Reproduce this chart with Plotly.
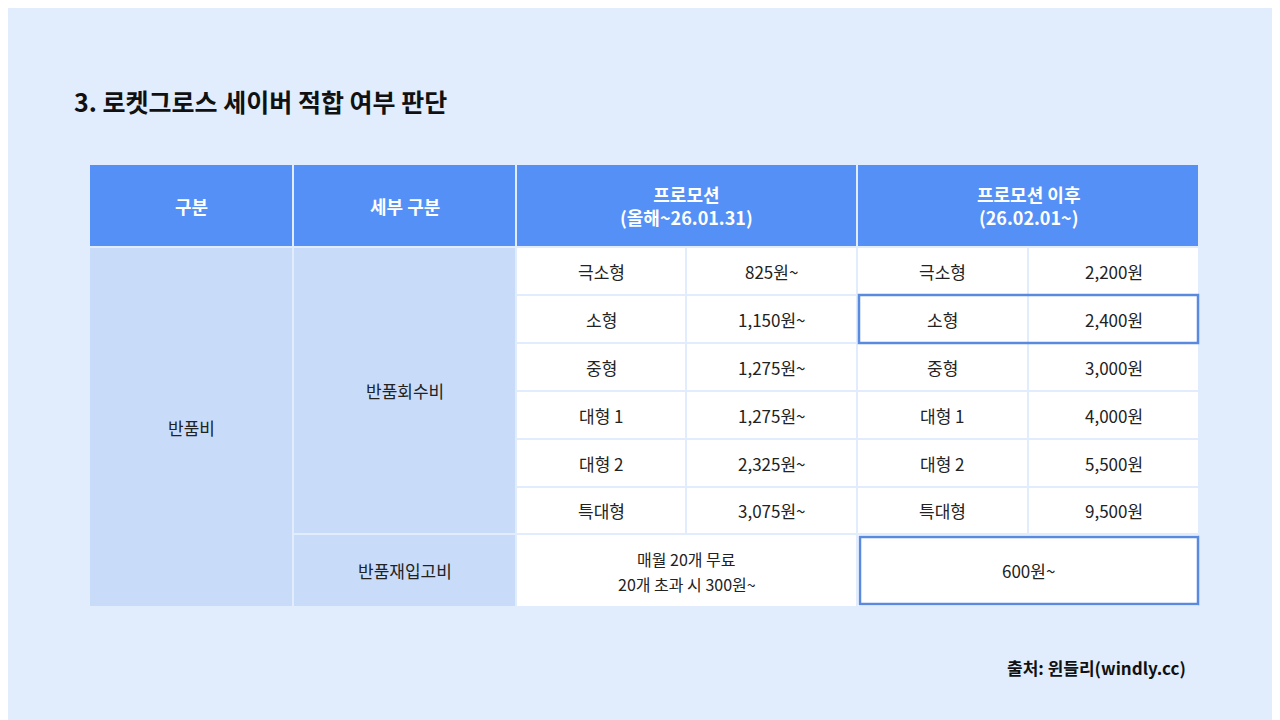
import plotly.graph_objects as go

title = "3. 로켓그로스 세이버 적합 여부 판단"
headers = ["구분", "세부 구분", "프로모션<br>(올해~26.01.31)", "프로모션 이후<br>(26.02.01~)"]
sizes = ["극소형", "소형", "중형", "대형 1", "대형 2", "특대형"]
promo = ["825원~", "1,150원~", "1,275원~", "1,275원~", "2,325원~", "3,075원~"]
after = ["2,200원", "2,400원", "3,000원", "4,000원", "5,500원", "9,500원"]
cat = "반품비"
sub1 = "반품회수비"
sub2 = "반품재입고비"
restock_promo = ["매월 20개 무료", "20개 초과 시 300원~"]
restock_after = "600원~"
source = "출처: 윈들리(windly.cc)"

BG = "#e1edfd"; HEAD = "#5590f6"; LIGHT = "#c8dcfa"; WHITE = "#ffffff"; EDGE = "#5a8ae0"
FONT = "Noto Sans CJK KR"

xs = [89, 293, 516, 686, 857, 1028, 1199]
head_y = (165, 246)
row_y = [(248, 294), (296, 342), (344, 390), (392, 438), (440, 486), (488, 533)]
last_y = (535, 606)

fig = go.Figure()
shapes = []
ann = []

def rect(x0, y0, x1, y1, color, line=None, w=0):
    shapes.append(dict(type="rect", xref="x", yref="y", x0=x0, x1=x1, y0=y0, y1=y1,
                       fillcolor=color, line=dict(color=line or color, width=w), layer="below"))

def text(x, y, t, size=17, bold=False, color="#222", anchor="center"):
    ann.append(dict(x=x, y=y, xref="x", yref="y", text=f"<b>{t}</b>" if bold else t,
                    showarrow=False, xanchor=anchor, yanchor="middle",
                    font=dict(family=FONT, size=size, color=color)))

g = 1
hx = [(xs[0], xs[1]), (xs[1], xs[2]), (xs[2], xs[4]), (xs[4], xs[6])]
for (a, b), h in zip(hx, headers):
    rect(a + g, head_y[0], b - g, head_y[1], HEAD)
    text((a + b) / 2, sum(head_y) / 2, h, size=18, bold=True, color="white")
rect(xs[0] + g, row_y[0][0], xs[1] - g, last_y[1], LIGHT)
text((xs[0] + xs[1]) / 2, (row_y[0][0] + last_y[1]) / 2, cat)
rect(xs[1] + g, row_y[0][0], xs[2] - g, row_y[-1][1], LIGHT)
text((xs[1] + xs[2]) / 2, (row_y[0][0] + row_y[-1][1]) / 2, sub1)
rect(xs[1] + g, last_y[0], xs[2] - g, last_y[1], LIGHT)
text((xs[1] + xs[2]) / 2, sum(last_y) / 2, sub2)
for i, (y0, y1) in enumerate(row_y):
    vals = [sizes[i], promo[i], sizes[i], after[i]]
    for j, v in enumerate(vals):
        a, b = xs[2 + j], xs[3 + j]
        rect(a + g, y0, b - g, y1, WHITE)
        text((a + b) / 2, (y0 + y1) / 2, v)
rect(xs[2] + g, last_y[0], xs[4] - g, last_y[1], WHITE)
text((xs[2] + xs[4]) / 2, sum(last_y) / 2 - 12, restock_promo[0], size=16)
text((xs[2] + xs[4]) / 2, sum(last_y) / 2 + 13, restock_promo[1], size=16)
rect(xs[4] + g, last_y[0], xs[6] - g, last_y[1], WHITE)
text((xs[4] + xs[6]) / 2, sum(last_y) / 2, restock_after)
for (x0, y0, x1, y1) in [(xs[4] + 2, row_y[1][0] - 1, xs[6] - 1, row_y[1][1] + 1),
                         (xs[4] + 3, last_y[0] + 2, xs[6] - 1, last_y[1] - 2)]:
    shapes.append(dict(type="rect", xref="x", yref="y", x0=x0, x1=x1, y0=y0, y1=y1,
                       line=dict(color=EDGE, width=2.5), fillcolor="rgba(0,0,0,0)", layer="above"))

text(72, 101, title, size=25, bold=True, color="#111", anchor="left")
text(1188, 667, source, size=17, bold=True, color="#111", anchor="right")

# page body has an 8px margin: size and ranges compensate so content lands at page pixels
fig.update_layout(width=1272, height=712, margin=dict(l=0, r=0, t=0, b=0),
                  paper_bgcolor=BG, plot_bgcolor=BG, shapes=shapes, annotations=ann,
                  xaxis=dict(range=[8, 1280], visible=False, fixedrange=True),
                  yaxis=dict(range=[720, 8], visible=False, fixedrange=True),
                  showlegend=False)
fig.write_html("out.html", config={"displayModeBar": False})
